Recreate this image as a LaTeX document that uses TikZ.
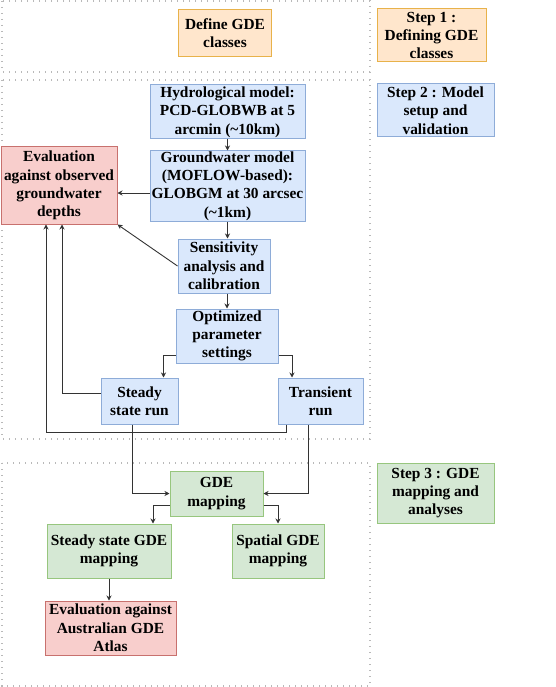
\documentclass[tikz,border=0pt]{standalone}
\usepackage{fontspec}
\setmainfont{Liberation Serif}
\usepackage{xcolor}
\usepackage{tikz}
\usetikzlibrary{arrows.meta, positioning}

\definecolor{orangefill}{HTML}{FFE6CC}
\definecolor{orangeline}{HTML}{E8B24A}
\definecolor{bluefill}{HTML}{DAE8FC}
\definecolor{blueline}{HTML}{8EACD8}
\definecolor{greenfill}{HTML}{D5E8D4}
\definecolor{greenline}{HTML}{97C67E}
\definecolor{redfill}{HTML}{F8CECC}
\definecolor{redline}{HTML}{C8716E}

\begin{document}
\begin{tikzpicture}[
    x=1pt, y=-1pt,
    box/.style={rectangle, line width=1pt, align=center, inner sep=0.5pt,
                font=\fontsize{15.4}{18.3}\selectfont\bfseries},
    orangebox/.style={box, draw=orangeline, fill=orangefill},
    bluebox/.style={box, draw=blueline, fill=bluefill},
    greenbox/.style={box, draw=greenline, fill=greenfill},
    redbox/.style={box, draw=redline, fill=redfill},
    phase/.style={draw=gray!55, line width=1.4pt, dash pattern=on 1.4pt off 4.6pt},
    arrow/.style={-{Stealth[length=5pt, width=5pt]}, line width=0.9pt, draw=black!80}
]
\useasboundingbox (0,0) rectangle (556,687);

% Phase frames
\draw[phase] (2,1) rectangle (370,72);
\draw[phase] (2,80) rectangle (370,439);
\draw[phase] (2,463) rectangle (370,686);

% Step labels
\node[orangebox, minimum width=109pt, minimum height=53pt] (step1) at (431.5,35.5) {Step 1 :\\Defining GDE\\classes};
\node[bluebox, minimum width=117pt, minimum height=53pt] (step2) at (435.5,110.5) {Step 2 : Model\\setup and\\validation};
\node[greenbox, minimum width=117pt, minimum height=60pt] (step3) at (435.5,493) {Step 3 : GDE\\mapping and\\analyses};

% Step 1
\node[orangebox, minimum width=93pt, minimum height=47pt] (define) at (225,33) {Define GDE\\classes};

% Step 2: model setup
\node[bluebox, minimum width=155pt, minimum height=54pt] (hydro) at (227.5,112) {Hydrological model:\\PCD-GLOBWB at 5\\arcmin (\textasciitilde10km)};
\node[bluebox, minimum width=155pt, minimum height=70pt] (gwmodel) at (227.5,186) {Groundwater model\\(MOFLOW-based):\\GLOBGM at 30 arcsec\\(\textasciitilde1km)};
\node[redbox, minimum width=116pt, minimum height=77pt] (evalobs) at (59,185.5) {Evaluation\\against observed\\groundwater\\depths};
\node[bluebox, minimum width=92pt, minimum height=54pt] (sens) at (224,266) {Sensitivity\\analysis and\\calibration};
\node[bluebox, minimum width=102pt, minimum height=54pt] (optim) at (227,336) {Optimized\\parameter\\settings};
\node[bluebox, minimum width=77pt, minimum height=46pt] (steady) at (139.5,401) {Steady\\state run};
\node[bluebox, minimum width=85pt, minimum height=46pt] (trans) at (320.5,401) {Transient\\run};

% Step 3: mapping
\node[greenbox, minimum width=93pt, minimum height=45pt] (gdemap) at (216.5,493.5) {GDE\\mapping};
\node[greenbox, minimum width=124pt, minimum height=54pt] (ssgde) at (109,551) {Steady state GDE\\mapping};
\node[greenbox, minimum width=92pt, minimum height=54pt] (spatial) at (278,551) {Spatial GDE\\mapping};
\node[redbox, minimum width=131pt, minimum height=54pt] (evalaus) at (110.5,628) {Evaluation against\\Australian GDE\\Atlas};

% Model chain
\draw[arrow] (hydro.south) -- (hydro.south |- gwmodel.north);
\draw[arrow] ([yshift=-7pt]gwmodel.west) -- ([yshift=-7pt]evalobs.east |- gwmodel.west);
\draw[arrow] (gwmodel.south) -- (gwmodel.south |- sens.north);
\draw[arrow] (sens.west) -- (evalobs.south east);
\draw[arrow] (sens.south -| optim.north) -- (optim.north);
\draw[arrow] ([yshift=-19pt]optim.west) -| ([xshift=24pt]steady.north);
\draw[arrow] ([yshift=-19pt]optim.east) -| ([xshift=-28.5pt]trans.north);

% Runs back to evaluation
\draw[arrow] ([yshift=8pt]steady.west) -| ([xshift=3pt]evalobs.south);
\draw[arrow] ([xshift=-34.5pt]trans.south) -- ++(0,8) -| ([xshift=-13pt]evalobs.south);

% Runs into mapping
\draw[arrow] ([xshift=-7.5pt]steady.south) |- (gdemap.west);
\draw[arrow] ([xshift=-12.5pt]trans.south) |- (gdemap.east);
\draw[arrow] ([yshift=-11.5pt]gdemap.west) -| ([xshift=44pt]ssgde.north);
\draw[arrow] ([yshift=-11.5pt]gdemap.east) -| (spatial.north);
\draw[arrow] (ssgde.south) -- (ssgde.south |- evalaus.north);

\end{tikzpicture}
\end{document}
